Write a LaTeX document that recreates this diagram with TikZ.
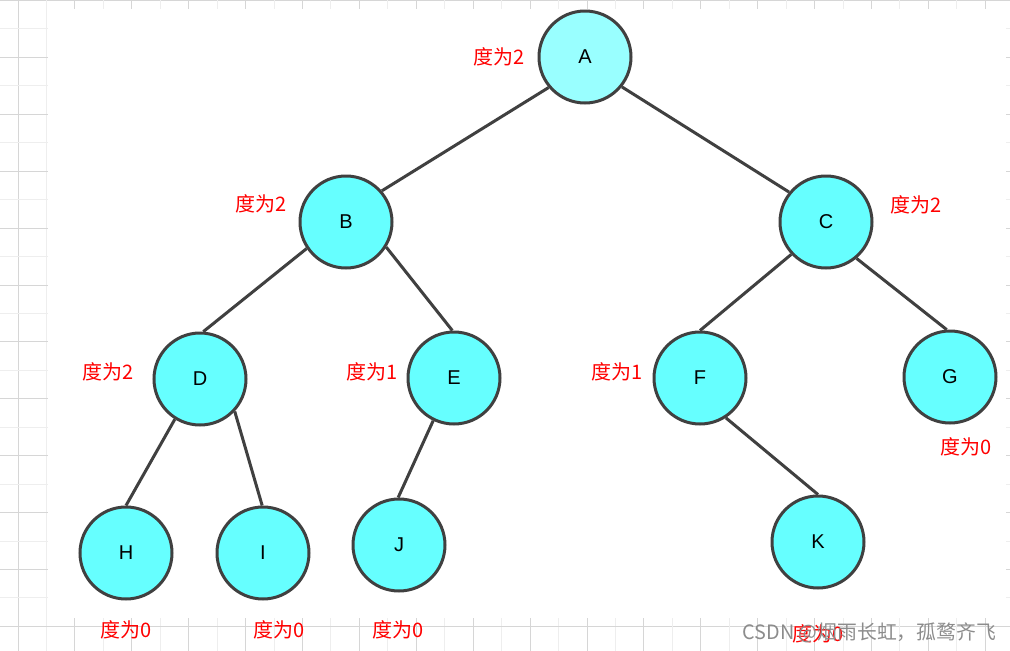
\documentclass[tikz,border=0pt]{standalone}
\usepackage{fontspec}
\setmainfont{Liberation Sans}
\newfontfamily\cjk{Noto Sans CJK SC}

\definecolor{rootfill}{HTML}{99FFFF}
\definecolor{vertfill}{HTML}{66FFFF}
\definecolor{edgegray}{HTML}{404040}
\definecolor{gridlight}{HTML}{EEEEEE}
\definecolor{griddark}{HTML}{D6D6D6}

\begin{document}
\begin{tikzpicture}[x=1pt,y=-1pt]
	\tikzstyle{vert}=[circle, draw=edgegray, line width=3pt, fill=vertfill, inner sep=0pt, minimum size=92pt, font=\fontsize{20}{20}\selectfont]
	\tikzstyle{deg}=[text=red, inner sep=0pt, font=\cjk\fontsize{20}{20}\selectfont]
	\tikzstyle{edge}=[draw=edgegray, line width=3pt]

	\useasboundingbox (0,0) rectangle (1010,651);

	% grid paper behind the white sheet
	\foreach \i in {0,...,35} {
		\pgfmathsetmacro{\gx}{18+28.45*\i}
		\pgfmathsetmacro{\gy}{0.5+28.45*\i}
		\ifodd\i
			\draw[gridlight, line width=1pt] (\gx,0) -- (\gx,651);
			\draw[gridlight, line width=1pt] (0,\gy) -- (1010,\gy);
		\else
			\draw[griddark, line width=1pt] (\gx,0) -- (\gx,651);
			\draw[griddark, line width=1pt] (0,\gy) -- (1010,\gy);
		\fi
	}
	\fill[white] (48,9) rectangle (1006,618);

	% the tree
	\node[vert, fill=rootfill] (A) at (585,57) {A};
	\node[vert] (B) at (346,222) {B};
	\node[vert] (C) at (826,222) {C};
	\node[vert] (D) at (200,379) {D};
	\node[vert] (E) at (454,378) {E};
	\node[vert] (F) at (700,378) {F};
	\node[vert] (G) at (950,377) {G};
	\node[vert] (H) at (126,553) {H};
	\node[vert] (I) at (263,553) {I};
	\node[vert] (J) at (399,545) {J};
	\node[vert] (K) at (818,542) {K};

	\draw[edge] (A.220) -- (B.41);
	\draw[edge] (A.321) -- (C.141);
	\draw[edge] (B.214) -- (D.86);
	\draw[edge] (B.328) -- (E.92);
	\draw[edge] (C.223) -- (F.90);
	\draw[edge] (C.310) -- (G.94);
	\draw[edge] (D.238) -- (H.90);
	\draw[edge] (D.317) -- (I.91);
	\draw[edge] (E.244) -- (J.91);
	\draw[edge] (F.303) -- (K.90);

	% degrees
	\node[deg] (degA) at (499,57) {度为2};
	\node[deg] (degB) at (261,204) {度为2};
	\node[deg] (degC) at (916,205) {度为2};
	\node[deg] (degD) at (108,372) {度为2};
	\node[deg] (degE) at (372,372) {度为1};
	\node[deg] (degF) at (617,372) {度为1};
	\node[deg] (degG) at (966,447) {度为0};
	\node[deg] (degH) at (126,630) {度为0};
	\node[deg] (degI) at (279,630) {度为0};
	\node[deg] (degJ) at (398,630) {度为0};
	\node[deg] (degK) at (818,634) {度为0};

	\node[anchor=east, text=black!45, inner sep=0pt, font=\cjk\fontsize{19.8}{20}\selectfont] (mark) at (996,633) {CSDN @烟雨长虹，孤鹜齐飞};
\end{tikzpicture}
\end{document}
